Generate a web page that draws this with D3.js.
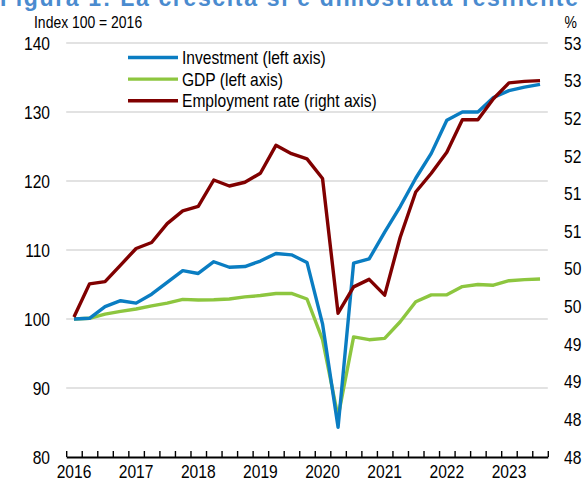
<!DOCTYPE html>
<html>
<head>
<meta charset="utf-8">
<script src="https://cdn.jsdelivr.net/npm/d3@7"></script>
<style>
  body { margin: 0; background: #fff; }
  text { font-family: "Liberation Sans", Arial, sans-serif; }
</style>
</head>
<body>
<div id="container"></div>
<script>
// quarters 2016Q1 .. 2023Q3
var quarters = ["2016Q1","2016Q2","2016Q3","2016Q4","2017Q1","2017Q2","2017Q3","2017Q4",
                "2018Q1","2018Q2","2018Q3","2018Q4","2019Q1","2019Q2","2019Q3","2019Q4",
                "2020Q1","2020Q2","2020Q3","2020Q4","2021Q1","2021Q2","2021Q3","2021Q4",
                "2022Q1","2022Q2","2022Q3","2022Q4","2023Q1","2023Q2","2023Q3"];

// left axis, index 100 = 2016
var investment = [100.0, 100.1, 101.8, 102.65, 102.3, 103.6, 105.3, 107.0,
                  106.6, 108.3, 107.5, 107.6, 108.4, 109.5, 109.3, 108.2,
                  99.3, 84.3, 108.1, 108.7, 112.6, 116.3, 120.4, 124.0,
                  128.8, 130.0, 130.0, 132.1, 133.1, 133.6, 134.0];
var gdp = [100.0, 100.1, 100.7, 101.1, 101.45, 101.9, 102.3, 102.85,
           102.75, 102.8, 102.9, 103.2, 103.4, 103.7, 103.7, 102.9,
           97.0, 85.8, 97.4, 97.0, 97.2, 99.6, 102.5, 103.5,
           103.5, 104.7, 105.0, 104.9, 105.55, 105.7, 105.8];
// right axis, %
var employment = [49.36, 49.80, 49.83, 50.05, 50.27, 50.35, 50.60, 50.77,
                  50.83, 51.18, 51.10, 51.15, 51.27, 51.64, 51.53, 51.46,
                  51.20, 49.41, 49.76, 49.86, 49.65, 50.42, 51.02, 51.27,
                  51.55, 51.98, 51.98, 52.26, 52.47, 52.49, 52.50];

var leftTicks = [80, 90, 100, 110, 120, 130, 140];
var rightTicks = [47.5, 48, 48.5, 49, 49.5, 50, 50.5, 51, 51.5, 52, 52.5, 53];

var seriesNames = ["Investment (left axis)", "GDP (left axis)", "Employment rate (right axis)"];
var seriesColors = ["#0a7dc2", "#8dc63f", "#800000"];

var Chart = {
    WIDTH: 586,
    HEIGHT: 481,
    X_MIN: 66.2,
    X_MAX: 547.8,
    Y_TOP: 43,
    Y_BOTTOM: 457,
    NARROW: 0.82
};

var svg = d3.select("#container").append("svg")
        .attr("width", Chart.WIDTH)
        .attr("height", Chart.HEIGHT);

var x = d3.scaleBand().domain(quarters).range([Chart.X_MIN, Chart.X_MAX]).padding(0);
var xEdge = d3.scaleLinear().domain([0, quarters.length]).range([Chart.X_MIN, Chart.X_MAX]);
var yLeft = d3.scaleLinear().domain([80, 140]).range([Chart.Y_BOTTOM, Chart.Y_TOP]);
var yRight = d3.scaleLinear().domain([47.5, 53]).range([Chart.Y_BOTTOM, Chart.Y_TOP]);

function cx(q) { return x(q) + x.bandwidth() / 2; }

// squeeze text horizontally to look like Arial Narrow
function narrow(sel) {
    sel.each(function () {
        var w = this.getComputedTextLength();
        d3.select(this)
            .attr("textLength", w * Chart.NARROW)
            .attr("lengthAdjust", "spacingAndGlyphs");
    });
}

// title, cut off at top
svg.append("text")
    .attr("x", 0)
    .attr("y", 6)
    .attr("textLength", 578)
    .style("font-weight", "bold")
    .style("font-size", "23px")
    .style("fill", "#4a8bcf")
    .text("Figura 1: La crescita si è dimostrata resiliente");

svg.append("text")
    .attr("x", 34).attr("y", 28)
    .style("font-size", "17px")
    .text("Index 100 = 2016")
    .call(narrow);
svg.append("text")
    .attr("x", 577).attr("y", 28)
    .attr("text-anchor", "end")
    .style("font-size", "17px")
    .text("%")
    .call(narrow);

// gridlines at left ticks
svg.append("g").selectAll("line")
    .data(leftTicks.filter(function (d) { return d > 80; }))
    .enter().append("line")
    .attr("x1", Chart.X_MIN).attr("x2", Chart.X_MAX)
    .attr("y1", function (d) { return yLeft(d); })
    .attr("y2", function (d) { return yLeft(d); })
    .style("stroke", "#d9d9d9")
    .style("stroke-width", 1.6);

// left axis labels
var leftAxis = svg.append("g")
    .attr("transform", "translate(50,0)")
    .call(d3.axisLeft(yLeft).tickValues(leftTicks).tickSize(0).tickPadding(0));
leftAxis.select(".domain").remove();
leftAxis.selectAll("text").style("font-size", "19px").style("fill", "#000")
    .style("font-family", "'Liberation Sans', Arial, sans-serif")
    .call(narrow);

// right axis labels
var rightAxis = svg.append("g")
    .attr("transform", "translate(564,0)")
    .call(d3.axisRight(yRight).tickValues(rightTicks).tickSize(0).tickPadding(0)
        .tickFormat(function (d) { return Math.round(d); }));
rightAxis.select(".domain").remove();
rightAxis.selectAll("text").style("font-size", "19px").style("fill", "#000")
    .style("font-family", "'Liberation Sans', Arial, sans-serif")
    .call(narrow);

// x axis: tick marks at quarter boundaries, pointing up
var xAxis = svg.append("g")
    .attr("transform", "translate(0," + Chart.Y_BOTTOM + ")")
    .call(d3.axisBottom(xEdge).tickValues(d3.range(quarters.length + 1))
        .tickSize(-6).tickSizeOuter(0).tickFormat(""));
xAxis.select(".domain").style("stroke", "#000").style("stroke-width", 2);
xAxis.selectAll(".tick line").style("stroke", "#000").style("stroke-width", 1.4);

// year labels under the first quarter of each year
var xLabels = svg.append("g")
    .attr("transform", "translate(0," + Chart.Y_BOTTOM + ")")
    .call(d3.axisBottom(x)
        .tickValues(quarters.filter(function (q) { return q.slice(4) === "Q1"; }))
        .tickSize(0).tickPadding(8)
        .tickFormat(function (q) { return q.slice(0, 4); }));
xLabels.select(".domain").remove();
xLabels.selectAll("text").style("font-size", "19px").style("fill", "#000")
    .style("font-family", "'Liberation Sans', Arial, sans-serif")
    .call(narrow);

// lines
var lineLeft = d3.line()
    .x(function (d, i) { return cx(quarters[i]); })
    .y(function (d) { return yLeft(d); });
var lineRight = d3.line()
    .x(function (d, i) { return cx(quarters[i]); })
    .y(function (d) { return yRight(d); });

svg.append("path").datum(gdp)
    .attr("d", lineLeft)
    .style("fill", "none").style("stroke", seriesColors[1])
    .style("stroke-width", 3.4).style("stroke-linejoin", "round");
svg.append("path").datum(investment)
    .attr("d", lineLeft)
    .style("fill", "none").style("stroke", seriesColors[0])
    .style("stroke-width", 3.4).style("stroke-linejoin", "round");
svg.append("path").datum(employment)
    .attr("d", lineRight)
    .style("fill", "none").style("stroke", seriesColors[2])
    .style("stroke-width", 3.4).style("stroke-linejoin", "round");

// legend
var legend = svg.append("g");
seriesNames.forEach(function (name, i) {
    var ly = 57.5 + i * 21.6;
    legend.append("line")
        .attr("x1", 128).attr("x2", 178)
        .attr("y1", ly).attr("y2", ly)
        .style("stroke", seriesColors[i])
        .style("stroke-width", 3.4);
    legend.append("text")
        .attr("x", 182).attr("y", ly + 6.5)
        .style("font-size", "19px")
        .text(name)
        .call(narrow);
});
</script>
</body>
</html>
